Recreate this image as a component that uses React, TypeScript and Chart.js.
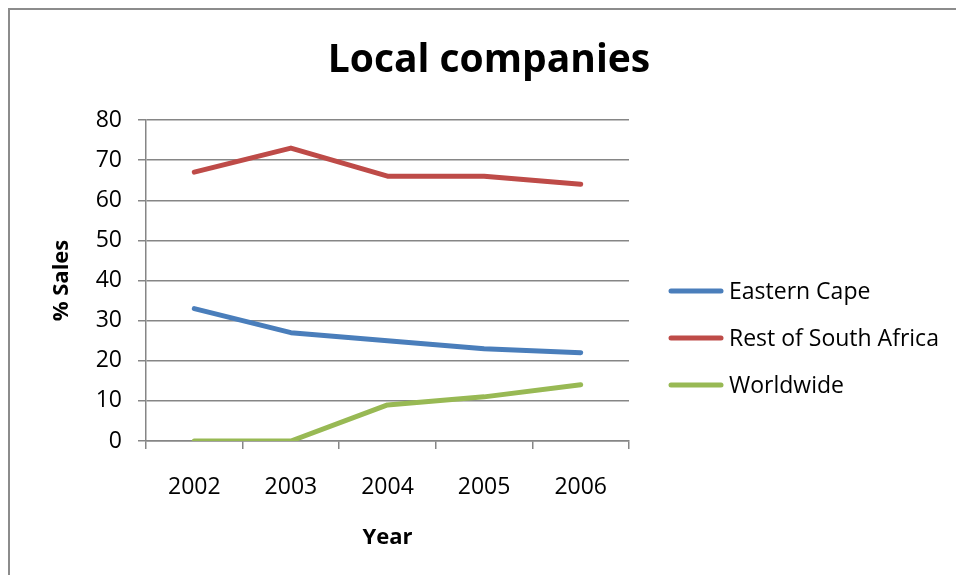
import React, { useEffect, useRef } from "react";
import { Chart, registerables } from "chart.js";

Chart.register(...registerables);

const years = ["2002", "2003", "2004", "2005", "2006"];
const easternCape = [33, 27, 25, 23, 22];
const restOfSouthAfrica = [67, 73, 66, 66, 64];
const worldwide = [0, 0, 9, 11, 14];
const seriesNames = ["Eastern Cape", "Rest of South Africa", "Worldwide"];
const seriesColors = ["#4A7EBB", "#BE4B48", "#98B954"];
const chartTitle = "Local companies";
const yTitle = "% Sales";
const xTitle = "Year";
const yMin = 0;
const yMax = 80;
const yStep = 10;

const FONT = "'Open Sans', Lato, sans-serif";
const GRID = "#868686";

const W = 956;
const H = 575;

const decorPlugin = {
  id: "decor",
  afterDraw(chart: any) {
    const ctx = chart.ctx;
    ctx.save();
    // title
    ctx.fillStyle = "#000";
    ctx.font = `bold 39px ${FONT}`;
    ctx.textAlign = "center";
    ctx.textBaseline = "middle";
    ctx.fillText(chartTitle, 489, 61);
    // legend
    ctx.font = `23px ${FONT}`;
    ctx.textAlign = "left";
    chart.data.datasets.forEach((ds: any, i: number) => {
      const y = 291 + i * 47;
      ctx.strokeStyle = ds.borderColor;
      ctx.lineWidth = 5;
      ctx.lineCap = "round";
      ctx.beginPath();
      ctx.moveTo(671, y);
      ctx.lineTo(721, y);
      ctx.stroke();
      ctx.fillStyle = "#000";
      ctx.fillText(ds.label, 729, y + 1);
    });
    ctx.restore();
  },
};

export default function App() {
  const ref = useRef<HTMLCanvasElement | null>(null);

  useEffect(() => {
    if (!ref.current) return;
    const series = [easternCape, restOfSouthAfrica, worldwide];
    const chart = new Chart(ref.current, {
      type: "line",
      data: {
        labels: years,
        datasets: series.map((d, i) => ({
          label: seriesNames[i],
          data: d,
          borderColor: seriesColors[i],
          backgroundColor: seriesColors[i],
          borderWidth: 5,
          pointRadius: 0,
          tension: 0,
          borderCapStyle: "round" as const,
          borderJoinStyle: "round" as const,
        })),
      },
      options: {
        responsive: false,
        animation: false,
        layout: { padding: { left: 0, right: 327, top: 120, bottom: 0 } },
        plugins: {
          legend: { display: false },
          title: { display: false },
          tooltip: { enabled: false },
        },
        scales: {
          x: {
            offset: true,
            afterFit(scale: any) {
              scale.height = 134;
            },
            grid: {
              offset: true,
              drawOnChartArea: false,
              drawTicks: true,
              tickLength: 8,
              color: GRID,
              lineWidth: 1.5,
            },
            border: { display: true, color: GRID, width: 1.5 },
            ticks: {
              color: "#000",
              font: { family: FONT, size: 23 },
              padding: 25,
            },
            title: {
              display: true,
              text: xTitle,
              color: "#000",
              font: { family: FONT, size: 22, weight: "bold" },
              padding: { top: 24, bottom: 24 },
            },
          },
          y: {
            min: yMin,
            max: yMax,
            afterFit(scale: any) {
              scale.width = 146;
            },
            grid: {
              color: GRID,
              lineWidth: 1.5,
              tickLength: 8,
            },
            border: { display: true, color: GRID, width: 1.5 },
            ticks: {
              stepSize: yStep,
              color: "#000",
              font: { family: FONT, size: 23 },
              padding: 16,
            },
            title: {
              display: true,
              text: yTitle,
              color: "#000",
              font: { family: FONT, size: 22, weight: "bold" },
              padding: { top: 49, bottom: 49 },
            },
          },
        },
      },
      plugins: [decorPlugin],
    });
    return () => chart.destroy();
  }, []);

  return (
    <div style={{ position: "absolute", left: 0, top: 0, width: W, height: H, overflow: "hidden", background: "#fff" }}>
      <div
        style={{
          position: "absolute",
          left: 8,
          top: 8,
          width: 1200,
          height: 1200,
          border: "2px solid #8c8c8c",
          boxSizing: "border-box",
        }}
      />
      <canvas ref={ref} width={W} height={H} style={{ position: "absolute", left: 0, top: 0, width: W, height: H }} />
    </div>
  );
}
